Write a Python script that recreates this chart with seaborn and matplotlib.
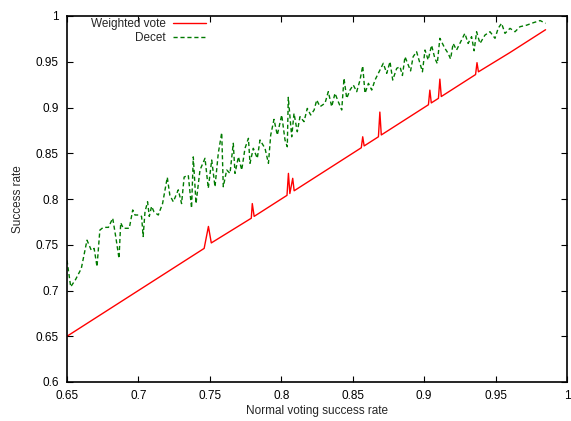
import matplotlib
matplotlib.use("Agg")
import matplotlib.pyplot as plt
import seaborn as sns
import pandas as pd

# Weighted vote (vertices of the red polyline)
wv_x = [0.650, 0.690, 0.720, 0.746, 0.749, 0.751, 0.779, 0.7797, 0.781, 0.804, 0.805,
        0.806, 0.808, 0.809, 0.856, 0.857, 0.858, 0.868, 0.869, 0.870, 0.903, 0.904,
        0.905, 0.910, 0.911, 0.912, 0.936, 0.937, 0.938, 0.960, 0.985]
wv_y = [0.650, 0.690, 0.720, 0.746, 0.770, 0.752, 0.779, 0.795, 0.781, 0.804, 0.828,
        0.806, 0.8226, 0.809, 0.856, 0.868, 0.858, 0.868, 0.895, 0.870, 0.903, 0.919,
        0.905, 0.910, 0.931, 0.912, 0.936, 0.949, 0.939, 0.960, 0.985]

# Decet
dc_x = [0.650, 0.6526, 0.656, 0.660, 0.664, 0.667, 0.669, 0.671, 0.673, 0.6754, 0.679,
        0.682, 0.6843, 0.6864, 0.6876, 0.6894, 0.6936, 0.696, 0.6976, 0.700, 0.7022,
        0.7033, 0.7046, 0.7064, 0.7076, 0.7092, 0.7109, 0.7139, 0.7169, 0.7202, 0.722,
        0.7244, 0.7279, 0.7302, 0.732, 0.7349, 0.7372, 0.7384, 0.7403, 0.7431, 0.7466,
        0.7489, 0.7513, 0.7536, 0.7559, 0.7583, 0.7594, 0.7618, 0.7641, 0.7664, 0.7676,
        0.770, 0.7723, 0.7746, 0.777, 0.7781, 0.7804, 0.7832, 0.7851, 0.7886, 0.791,
        0.7926, 0.7949, 0.7972, 0.8003, 0.8026, 0.8042, 0.8049, 0.8073, 0.8089, 0.8112,
        0.8131, 0.8159, 0.8182, 0.8206, 0.823, 0.8248, 0.8271, 0.8306, 0.8329, 0.8353,
        0.8376, 0.8399, 0.8423, 0.8439, 0.8458, 0.8481, 0.8504, 0.8528, 0.8551, 0.857,
        0.8586, 0.861, 0.8633, 0.8656, 0.8691, 0.8714, 0.8738, 0.8761, 0.878, 0.8808,
        0.8831, 0.8848, 0.8866, 0.8889, 0.8905, 0.8923, 0.8947, 0.8971, 0.8988, 0.9006,
        0.9028, 0.9052, 0.9075, 0.9092, 0.911, 0.9145, 0.9168, 0.9185, 0.9203, 0.9227,
        0.9262, 0.9285, 0.9308, 0.9332, 0.9350, 0.9367, 0.9391, 0.9426, 0.9461, 0.9496,
        0.9518, 0.9542, 0.9566, 0.9601, 0.9636, 0.9671, 0.9718, 0.9765, 0.9812, 0.985]
dc_y = [0.733, 0.704, 0.712, 0.724, 0.755, 0.744, 0.746, 0.726, 0.766, 0.769, 0.769,
        0.779, 0.757, 0.735, 0.774, 0.768, 0.768, 0.788, 0.7825, 0.7825, 0.781,
        0.759, 0.786, 0.797, 0.781, 0.792, 0.786, 0.7825, 0.795, 0.8237, 0.804,
        0.797, 0.810, 0.795, 0.824, 0.826, 0.790, 0.846, 0.795, 0.8317, 0.8445,
        0.8117, 0.8426, 0.8134, 0.850, 0.8725, 0.8134, 0.8317, 0.828, 0.8609, 0.828,
        0.8462, 0.8317, 0.8554, 0.8663, 0.839, 0.8554, 0.8445, 0.8645, 0.8554, 0.839,
        0.8699, 0.887, 0.8699, 0.8918, 0.8645, 0.8571, 0.9111, 0.868, 0.8936, 0.8735,
        0.890, 0.8845, 0.899, 0.8918, 0.8973, 0.9082, 0.9009, 0.9046, 0.9173, 0.9009,
        0.9155, 0.9063, 0.8973, 0.9319, 0.910, 0.9191, 0.9246, 0.9173, 0.930, 0.9454,
        0.9155, 0.9264, 0.9191, 0.930, 0.941, 0.9483, 0.9373, 0.950, 0.930, 0.9428,
        0.9446, 0.935, 0.9555, 0.9464, 0.940, 0.9555, 0.961, 0.948, 0.939, 0.9628,
        0.952, 0.968, 0.9537, 0.948, 0.9756, 0.9647, 0.9592, 0.953, 0.970, 0.9628,
        0.9738, 0.981, 0.970, 0.9774, 0.962, 0.9828, 0.970, 0.9792, 0.9828, 0.9756,
        0.9865, 0.992, 0.981, 0.9865, 0.9828, 0.9883, 0.990, 0.9927, 0.995, 0.992]

x_ticks = [0.65, 0.7, 0.75, 0.8, 0.85, 0.9, 0.95, 1.0]
x_tick_labels = ["0.65", "0.7", "0.75", "0.8", "0.85", "0.9", "0.95", "1"]
y_ticks = [0.6, 0.65, 0.7, 0.75, 0.8, 0.85, 0.9, 0.95, 1.0]
y_tick_labels = ["0.6", "0.65", "0.7", "0.75", "0.8", "0.85", "0.9", "0.95", "1"]

sns.set_theme(style="ticks")
plt.rcParams["font.family"] = ["Liberation Sans", "DejaVu Sans"]

fig = plt.figure(figsize=(5.71, 4.21), dpi=100)
ax = fig.add_axes([67 / 571, 1 - 382 / 421, 500 / 571, 366 / 421])

wv = pd.DataFrame({"x": wv_x, "y": wv_y})
dc = pd.DataFrame({"x": dc_x, "y": dc_y})

sns.lineplot(data=wv, x="x", y="y", ax=ax, color="#ff0000", linewidth=1.0,
             estimator=None, sort=False, label="Weighted vote")
sns.lineplot(data=dc, x="x", y="y", ax=ax, color="#007a00", linewidth=1.0,
             estimator=None, sort=False, linestyle=(0, (3, 2)), label="Decet")

ax.set_xlim(0.65, 1.0)
ax.set_ylim(0.6, 1.0)
ax.set_xticks(x_ticks)
ax.set_xticklabels(x_tick_labels)
ax.set_yticks(y_ticks)
ax.set_yticklabels(y_tick_labels)
ax.tick_params(direction="in", length=4, width=0.8, top=True, right=True,
               labelsize=8.5, colors="black", pad=6)
for s in ax.spines.values():
    s.set_visible(True)
    s.set_linewidth(1.2)
    s.set_color("black")

ax.set_xlabel("Normal voting success rate", fontsize=8.5, labelpad=2)
ax.set_ylabel("Success rate", fontsize=8.5, labelpad=8)

ax.legend(loc="upper right", bbox_to_anchor=(206 / 571, 1 - 18 / 421),
          bbox_transform=fig.transFigure, frameon=False, markerfirst=False,
          fontsize=8.5, handlelength=2.8, handletextpad=0.6, labelspacing=0.2,
          borderpad=0, borderaxespad=0)

fig.savefig("out.png", dpi=100)
